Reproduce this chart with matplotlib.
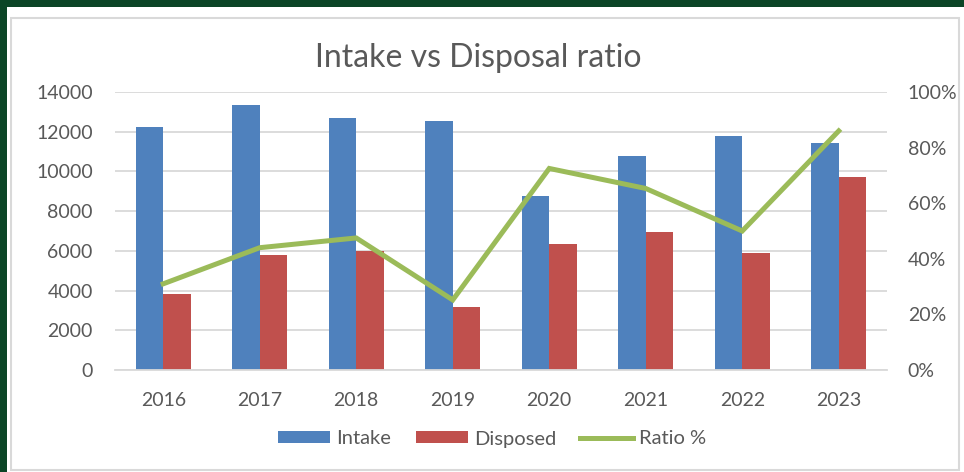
import matplotlib
matplotlib.use("Agg")
import matplotlib.pyplot as plt
import matplotlib.patches as mpatches
from matplotlib.ticker import PercentFormatter, FixedLocator
import numpy as np

years = ["2016", "2017", "2018", "2019", "2020", "2021", "2022", "2023"]
intake = [12250, 13350, 12700, 12520, 8760, 10800, 11800, 11430]
disposed = [3810, 5790, 5990, 3160, 6350, 6970, 5890, 9720]
ratio = [0.31, 0.44, 0.475, 0.252, 0.725, 0.653, 0.50, 0.86]

W, H = 964, 472
plt.rcParams['font.family'] = ['Lato', 'DejaVu Sans']
TXT = '#595959'
GRID = '#D9D9D9'

fig = plt.figure(figsize=(W / 100, H / 100), dpi=100)
fig.patch.set_facecolor('white')

def px_rect(x0, y0, x1, y1, **kw):
    r = mpatches.Rectangle((x0 / W, 1 - y1 / H), (x1 - x0) / W, (y1 - y0) / H,
                           transform=fig.transFigure, figure=fig, **kw)
    fig.patches.append(r)

green = '#0B4526'
px_rect(0, 0, W, 7, facecolor=green, edgecolor='none', zorder=-10)
px_rect(0, 0, 7, H, facecolor=green, edgecolor='none', zorder=-10)
px_rect(11, 18, 959, 470, facecolor='none', edgecolor=GRID, linewidth=1.5, zorder=-10)

ax = fig.add_axes([115 / W, 1 - 370 / H, (887 - 115) / W, (370 - 92) / H])
ax.set_facecolor('none')
x = np.arange(len(years))
bw = 0.287
b1 = ax.bar(x - bw / 2, intake, bw, color='#4F81BD', label='Intake', zorder=2)
b2 = ax.bar(x + bw / 2, disposed, bw, color='#C0504D', label='Disposed', zorder=2)
ax.set_xlim(-0.5, len(years) - 0.5)
ax.set_ylim(0, 14000)
ax.yaxis.set_major_locator(FixedLocator(range(0, 14001, 2000)))
ax.grid(axis='y', color=GRID, linewidth=1.3, zorder=0)
ax.set_axisbelow(True)
for s in ['top', 'right', 'left']:
    ax.spines[s].set_visible(False)
ax.spines['bottom'].set_color(GRID)
ax.spines['bottom'].set_linewidth(1.3)
ax.set_xticks(x)
ax.set_xticklabels(years)
ax.tick_params(axis='both', length=0, labelsize=14, colors=TXT, pad=16)
ax.tick_params(axis='x', pad=15.5)

ax2 = ax.twinx()
ln, = ax2.plot(x, ratio, color='#9BBB59', linewidth=3.6, label='Ratio %',
               solid_joinstyle='miter', zorder=3)
ax2.set_ylim(0, 1)
ax2.yaxis.set_major_locator(FixedLocator(np.linspace(0, 1, 6)))
ax2.yaxis.set_major_formatter(PercentFormatter(1.0, decimals=0))
for s in ax2.spines.values():
    s.set_visible(False)
ax2.tick_params(axis='y', length=0, labelsize=14, colors=TXT, pad=15)

fig.text(478 / W, 1 - 58 / H, 'Intake vs Disposal ratio', ha='center', va='center',
         fontsize=23, color=TXT)

leg = fig.legend([b1, b2, ln], ['Intake', 'Disposed', 'Ratio %'], loc='center',
                 bbox_to_anchor=(492 / W, 1 - 439 / H), ncol=3, frameon=False,
                 fontsize=14.5, handlelength=2.6, handleheight=0.55,
                 handletextpad=0.3, columnspacing=1.2, labelcolor=TXT)

fig.savefig('out.png', dpi=100, facecolor=fig.get_facecolor())
